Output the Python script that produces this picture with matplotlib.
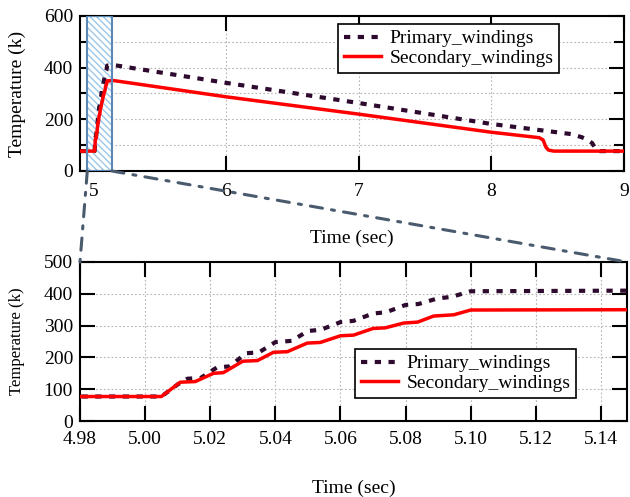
import matplotlib
matplotlib.use('Agg')
import matplotlib.pyplot as plt
from matplotlib.patches import Rectangle, ConnectionPatch
from matplotlib.ticker import FixedLocator

plt.rcParams['font.family'] = ['Liberation Serif', 'DejaVu Serif']
plt.rcParams['hatch.linewidth'] = 1.0

# ---------------- data ----------------
time_primary = [4.90, 5.005, 5.010, 5.013, 5.017, 5.022, 5.026, 5.031, 5.035,
                5.040, 5.045, 5.050, 5.054, 5.060, 5.064, 5.070, 5.074, 5.080,
                5.084, 5.090, 5.094, 5.100, 5.150, 6.0, 7.0, 8.0, 8.60, 8.68,
                8.72, 8.76, 8.79, 8.82, 9.0]
temp_primary = [77, 77, 115, 133, 135, 168, 172, 213, 216,
                248, 252, 283, 287, 311, 315, 338, 342, 365,
                368, 386, 390, 408, 410, 341, 263, 182, 143, 131,
                122, 108, 82, 77, 77]

time_secondary = [4.90, 5.005, 5.0108, 5.0154, 5.021, 5.024, 5.030, 5.0345,
                  5.0394, 5.0437, 5.0498, 5.0538, 5.060, 5.064, 5.070, 5.0738,
                  5.0794, 5.0837, 5.0886, 5.0948, 5.100, 5.150, 6.0, 7.0, 8.0,
                  8.36, 8.39, 8.41, 8.43, 8.47, 9.0]
temp_secondary = [77, 77, 122, 124, 150, 152, 188, 190,
                  216, 218, 245, 247, 268, 270, 291, 293,
                  308, 311, 330, 334, 349, 350, 287, 220, 150,
                  129, 120, 93, 81, 77, 77]

series_names = ['Primary_windings', 'Secondary_windings']

top_xlim = (4.895, 9.0)
top_ylim = (0, 600)
top_xticks = [5, 6, 7, 8, 9]
top_yticks = [0, 200, 400, 600]
top_yminor = [100, 300, 500]

bot_xlim = (4.98, 5.148)
bot_ylim = (0, 500)
bot_xticks = [4.98, 5.00, 5.02, 5.04, 5.06, 5.08, 5.10, 5.12, 5.14]
bot_xticklabels = ['4.98', '5.00', '5.02', '5.04', '5.06', '5.08', '5.10', '5.12', '5.14']
bot_yticks = [0, 100, 200, 300, 400, 500]

zoom_span = (4.95, 5.135)

# ---------------- styles ----------------
c_primary = '#2e0a2e'
c_secondary = '#ff0000'
grid_kw = dict(color='#b5b5b5', linestyle=(0, (1.5, 2.0)), linewidth=0.8)

fig = plt.figure(figsize=(6.3, 4.97), dpi=100)
ax1 = fig.add_axes([80 / 630, 1 - 171 / 497, 544 / 630, 155 / 497])
ax2 = fig.add_axes([80 / 630, 1 - 421 / 497, 547 / 630, 159 / 497])

for ax in (ax1, ax2):
    ax.plot(time_primary, temp_primary, color=c_primary, lw=3.0,
            linestyle=(0, (1.5, 1.8)), label=series_names[0], zorder=3)
    ax.plot(time_secondary, temp_secondary, color=c_secondary, lw=2.5,
            label=series_names[1], zorder=4)
    for s in ax.spines.values():
        s.set_linewidth(1.5)
    ax.tick_params(which='both', direction='in', top=True, right=True,
                   labelsize=14, width=1.5)
    ax.tick_params(which='major', length=11)
    ax.tick_params(which='minor', length=7)
    ax.set_ylabel('Temperature (k)')
    ax.set_xlabel('Time (sec)', fontsize=14)

# top axes
ax1.set_xlim(*top_xlim)
ax1.set_ylim(*top_ylim)
ax1.xaxis.set_major_locator(FixedLocator(top_xticks))
ax1.yaxis.set_major_locator(FixedLocator(top_yticks))
ax1.yaxis.set_minor_locator(FixedLocator(top_yminor))
ax1.tick_params(axis='x', which='major', pad=9)
ax1.tick_params(axis='y', which='major', pad=5)
ax1.grid(True, axis='x', which='major', **grid_kw)
ax1.grid(True, axis='y', which='both', **grid_kw)
ax1.yaxis.label.set_fontsize(14)
ax1.xaxis.set_label_coords(0.5, -0.38)
ax1.yaxis.set_label_coords(-0.10, 0.5)

# zoom rectangle
ax1.add_patch(Rectangle((zoom_span[0], top_ylim[0]), zoom_span[1] - zoom_span[0],
                        top_ylim[1] - top_ylim[0], facecolor='white',
                        edgecolor='#9cc6ea', hatch='\\' * 5, lw=0, zorder=2))
ax1.add_patch(Rectangle((zoom_span[0], top_ylim[0]), zoom_span[1] - zoom_span[0],
                        top_ylim[1] - top_ylim[0], facecolor='none',
                        edgecolor='#5a87b5', lw=1.5, zorder=5))

# bottom axes
ax2.set_xlim(*bot_xlim)
ax2.set_ylim(*bot_ylim)
ax2.xaxis.set_major_locator(FixedLocator(bot_xticks))
ax2.set_xticklabels(bot_xticklabels)
ax2.yaxis.set_major_locator(FixedLocator(bot_yticks))
ax2.tick_params(axis='x', which='major', pad=7)
ax2.tick_params(axis='y', which='major', pad=5)
ax2.grid(True, which='major', **grid_kw)
ax2.yaxis.label.set_fontsize(12)
ax2.xaxis.set_label_coords(0.5, -0.37)
ax2.yaxis.set_label_coords(-0.10, 0.5)

# connector lines
for xa, xb in ((zoom_span[0], bot_xlim[0]), (zoom_span[1], bot_xlim[1])):
    cp = ConnectionPatch(xyA=(xa, top_ylim[0]), coordsA=ax1.transData,
                         xyB=(xb, bot_ylim[1]), coordsB=ax2.transData,
                         color='#4a5b6e', lw=2.2, linestyle=(0, (4, 3, 1, 3)),
                         zorder=10)
    fig.add_artist(cp)

leg_kw = dict(loc='upper left', bbox_transform=fig.transFigure, fontsize=14,
              frameon=True, fancybox=False, framealpha=1, edgecolor='black',
              handlelength=1.9, handletextpad=0.45, borderpad=0.3,
              labelspacing=0.1, borderaxespad=0)
l1 = ax1.legend(bbox_to_anchor=(338 / 630, 1 - 24 / 497), **leg_kw)
l2 = ax2.legend(bbox_to_anchor=(355 / 630, 1 - 349 / 497), **leg_kw)
for l in (l1, l2):
    l.get_frame().set_linewidth(1.2)
    l.set_zorder(20)

fig.savefig('out.png', dpi=100)
